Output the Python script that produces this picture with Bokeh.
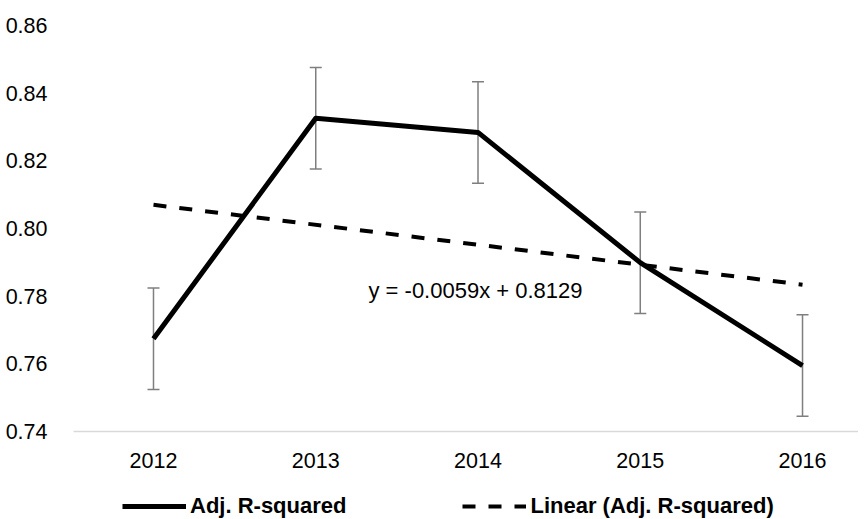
from bokeh.plotting import figure
from bokeh.layouts import column
from bokeh.models import ColumnDataSource, Whisker, TeeHead, Legend, LegendItem, FixedTicker, Range1d
from bokeh.embed import file_html
from bokeh.resources import INLINE
from bokeh.core.properties import value

years = ["2012", "2013", "2014", "2015", "2016"]
xpos = [1, 2, 3, 4, 5]
adj_r2 = [0.7674, 0.8326, 0.8284, 0.7899, 0.7595]
err = [0.015, 0.015, 0.015, 0.015, 0.015]
trend_slope = -0.0059
trend_intercept = 0.8129
equation = "y = -0.0059x + 0.8129"
y_ticks = [0.74, 0.76, 0.78, 0.80, 0.82, 0.84, 0.86]
series_names = ["Adj. R-squared", "Linear (Adj. R-squared)"]

FONT = "Liberation Sans"
W = 858

p = figure(width=W, height=475, output_backend="svg", toolbar_location=None,
           x_range=Range1d(0.507, 5.345), y_range=Range1d(0.74, 0.86),
           min_border_left=73, min_border_right=0, min_border_top=25, min_border_bottom=44)
p.outline_line_color = None
p.xgrid.visible = False
p.ygrid.visible = False

src = ColumnDataSource(dict(x=xpos, y=adj_r2,
                            upper=[v + e for v, e in zip(adj_r2, err)],
                            lower=[v - e for v, e in zip(adj_r2, err)]))

w = Whisker(base="x", upper="upper", lower="lower", source=src,
            line_color="#7f7f7f", line_width=1.5,
            upper_head=TeeHead(size=12, line_color="#7f7f7f", line_width=1.5),
            lower_head=TeeHead(size=12, line_color="#7f7f7f", line_width=1.5))
p.add_layout(w)

trend_y = [trend_slope * x + trend_intercept for x in xpos]
trend_src = ColumnDataSource(dict(x=[xpos[0], xpos[-1]], y=[trend_y[0], trend_y[-1]]))
p.line("x", "y", source=trend_src, line_color="black", line_width=4, line_dash="13 13")
p.line("x", "y", source=src, line_color="black", line_width=5, line_join="round")

p.text(x=[2.325], y=[0.7817], text=[equation], text_font=value(FONT), text_font_size="22px",
       text_color="#000000", text_align="left", text_baseline="middle")

p.xaxis.ticker = FixedTicker(ticks=xpos)
p.xaxis.major_label_overrides = {x: y for x, y in zip(xpos, years)}
p.xaxis.axis_line_color = "#d9d9d9"
p.xaxis.axis_line_width = 1.5
p.xaxis.major_tick_line_color = None
p.xaxis.minor_tick_line_color = None
p.xaxis.major_label_standoff = 15
p.xaxis.major_label_text_font = FONT
p.xaxis.major_label_text_font_size = "21.5px"
p.xaxis.major_label_text_color = "#000000"

p.yaxis.ticker = FixedTicker(ticks=y_ticks)
p.yaxis.major_label_overrides = {t: f"{t:.2f}" for t in y_ticks}
p.yaxis.axis_line_color = None
p.yaxis.major_tick_line_color = None
p.yaxis.minor_tick_line_color = None
p.yaxis.major_label_standoff = 20
p.yaxis.major_label_text_font = FONT
p.yaxis.major_label_text_font_size = "21.5px"
p.yaxis.major_label_text_color = "#000000"

# legend strip below the chart (its renderers share the data but lie outside its view)
lg = figure(width=W, height=44, output_backend="svg", toolbar_location=None,
            x_range=Range1d(100, 101), y_range=Range1d(100, 101),
            x_axis_type=None, y_axis_type=None,
            min_border_left=0, min_border_right=0, min_border_top=0, min_border_bottom=0)
lg.outline_line_color = None
lg.xgrid.visible = False
lg.ygrid.visible = False
l_main = lg.line("x", "y", source=src, line_color="black", line_width=5)
l_trend = lg.line("x", "y", source=trend_src, line_color="black", line_width=4, line_dash="13 13")

legend = Legend(items=[LegendItem(label=series_names[0], renderers=[l_main]),
                       LegendItem(label=series_names[1], renderers=[l_trend])],
                orientation="horizontal", location=(49, 0), spacing=116,
                glyph_width=64, glyph_height=22, label_height=22, label_standoff=4,
                padding=0, margin=0,
                border_line_color=None, background_fill_alpha=0,
                label_text_font=FONT, label_text_font_size="22px",
                label_text_font_style="bold", label_text_color="#000000")
lg.add_layout(legend, "center")

layout = column(p, lg, spacing=0)
open("out.html", "w").write(file_html(layout, INLINE))
